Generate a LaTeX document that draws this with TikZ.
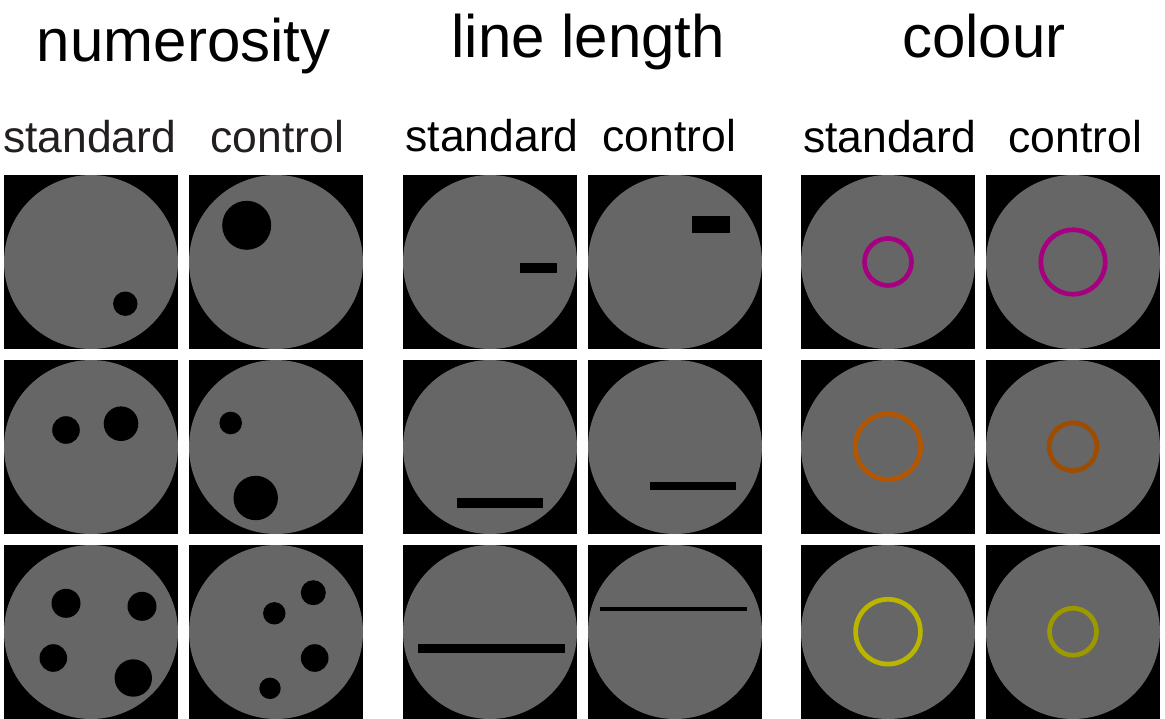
\documentclass[tikz,border=0pt]{standalone}
\usepackage{fontspec}
\setmainfont{Liberation Sans}
\definecolor{disc}{RGB}{102,102,102}
\definecolor{ringA}{RGB}{166,0,128}
\definecolor{ringB}{RGB}{180,86,0}
\definecolor{ringC}{RGB}{158,76,0}
\definecolor{ringD}{RGB}{186,182,0}
\definecolor{ringE}{RGB}{155,152,0}
\definecolor{subtext}{RGB}{35,31,32}
\tikzset{
  title/.style={inner sep=0pt, anchor=base, font=\fontsize{60}{60}\selectfont},
  sub/.style={inner sep=0pt, anchor=base, font=\fontsize{44.5}{44.5}\selectfont},
  ring/.style={line width=4.7pt}
}
\begin{document}
\begin{tikzpicture}[x=1pt,y=-1pt]
\useasboundingbox (0,0) rectangle (1165,718);
\fill[white] (0,0) rectangle (1165,718);

% headings
\node[title] (tnum) at (183.7,61) {numerosity};
\node[title] (tlen) at (588.3,57) {line length};
\node[title] (tcol) at (983.7,57) {colour};

\node[sub, text=subtext] (s1) at (89.7,152.5) {standard};
\node[sub, text=subtext] (c1) at (277.5,152.5) {control};
\node[sub] (s2) at (492,151) {standard};
\node[sub] (c2) at (669.2,151) {control};
\node[sub] (s3) at (889.7,152.5) {standard};
\node[sub] (c3) at (1075.2,152.5) {control};

% stimulus panels: black square with grey disc
\foreach \px in {4,189,403,588,801,986}{
  \foreach \py in {175,360,545}{
    \fill[black] (\px,\py) rectangle ++(174,174);
    \fill[disc] (\px+87,\py+87) circle (87pt);
  }
}

% numerosity, standard
\fill[black] (125.3,303.7) circle (12.2pt);
\fill[black] (66,430) circle (13.8pt);
\fill[black] (121,423.7) circle (17.3pt);
\fill[black] (66,603.3) circle (14.5pt);
\fill[black] (142,606.3) circle (14.5pt);
\fill[black] (53.3,658) circle (13.8pt);
\fill[black] (133.3,678) circle (18.7pt);

% numerosity, control
\fill[black] (246.7,225.3) circle (24.5pt);
\fill[black] (230.7,423) circle (11.3pt);
\fill[black] (255.7,498) circle (22.2pt);
\fill[black] (313.3,592.7) circle (12.5pt);
\fill[black] (274.3,613.3) circle (11.2pt);
\fill[black] (314.7,658) circle (13.8pt);
\fill[black] (270,688.3) circle (10.7pt);

% line length, standard
\fill[black] (520,263) rectangle (557,272.7);
\fill[black] (457.3,498) rectangle (543.3,508);
\fill[black] (418,643.7) rectangle (564.7,653);

% line length, control
\fill[black] (691.7,215.7) rectangle (729.7,233);
\fill[black] (650,482) rectangle (736,489.7);
\fill[black] (600,607) rectangle (747.3,610.7);

% colour, standard and control
\draw[ring, ringA] (888,262) circle (23.5pt);
\draw[ring, ringA] (1073,262) circle (32.2pt);
\draw[ring, ringB] (888,446.7) circle (32.7pt);
\draw[ring, ringC] (1073,446.7) circle (23.9pt);
\draw[ring, ringD] (888,631.7) circle (32.4pt);
\draw[ring, ringE] (1073,631.7) circle (23.5pt);
\end{tikzpicture}
\end{document}
